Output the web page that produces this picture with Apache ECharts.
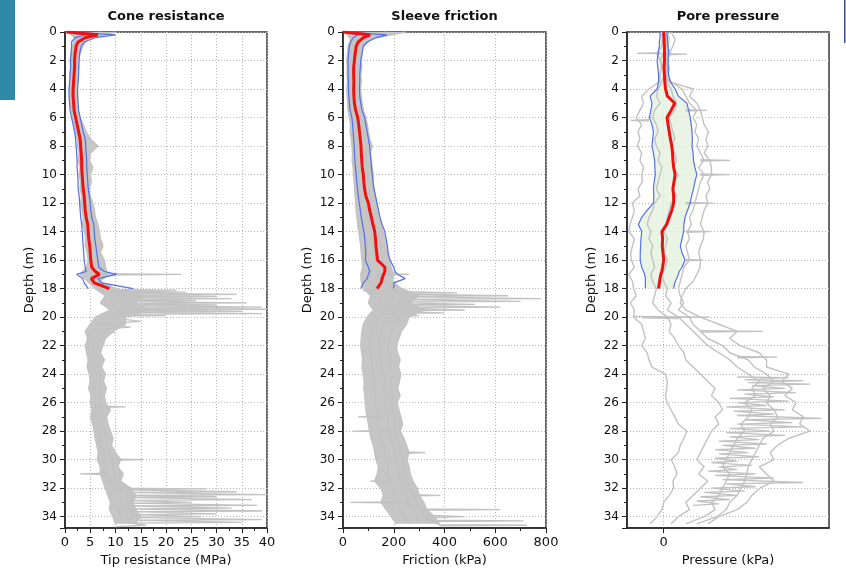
<!DOCTYPE html>
<html><head><meta charset="utf-8">
<script src="https://cdn.jsdelivr.net/npm/echarts@6/dist/echarts.min.js"></script>
<style>html,body{margin:0;padding:0;background:#fff}#c{width:846px;height:572px}</style>
</head><body><div id="c"></div>
<script>
// ---------- DATA ----------
const titles = ['Cone resistance', 'Sleeve friction', 'Pore pressure'];
const xNames = ['Tip resistance (MPa)', 'Friction (kPa)', 'Pressure (kPa)'];
const yName = 'Depth (m)';

// depth grid of the individual soundings (m)
const depth = [0,0.5,1,1.5,2,2.5,3,3.5,4,4.5, 5,5.5,6,6.5,7,7.5,8,8.5,9,9.5,
  10,10.5,11,11.5,12,12.5,13,13.5,14,14.5, 15,15.5,16,16.5,17,17.5,18,18.5,19,19.5,
  20,20.5,21,21.5,22,22.5,23,23.5,24,24.5, 25,25.5,26,26.5,27,27.5,28,28.5,29,29.5,
  30,30.5,31,31.5,32,32.5,33,33.5,34,34.5];

// depth grid of the statistics (mean, mean +/- std)
const meanDepth = [0,0.2,0.4,0.7,1,1.5,2,2.5,3,3.5,4,4.5,5,5.5,6,6.5,7,7.5,8,8.5,9,9.5,
  10,10.5,11,11.5,12,12.5,13,13.5,14,14.5,15,15.5,16,16.5,16.8,17,17.3,17.6,18];

// ---- Cone resistance (MPa) ----
const cone1 = [0.5,2.5,1.6,1.2,1.0,1.2,0.9,1.1,0.8,1.0, 0.9,1.3,1.5,1.8,2.0,2.4,2.5,2.8,2.6,3.0,
  2.8,3.1,3.0,3.3,3.1,3.4,3.6,3.5,3.9,4.1, 4.0,4.4,4.6,4.3,3.0,4.5,6.0,8,7,9,
  6,5,4,4.5,4.0,4.3,4.6,4.4,4.8,5.0, 4.7,5.2,5.0,5.4,5.1,5.5,5.8,6.0,6.3,6.6,
  6.4,7.0,7.0,7.5,8.0,8.5,9.0,8.8,9.5,10];
const cone2 = [7,3.5,2.2,2.0,1.8,1.9,1.7,1.8,1.5,1.6, 1.7,1.9,2.2,2.5,2.8,3.2,3.5,3.3,3.6,3.4,
  3.7,3.9,3.6,4.0,4.2,4.0,4.4,4.7,4.9,5.0, 5.2,5.0,5.5,5.8,6.0,5.5,8.0,12,10,13,
  9,8,6.5,6.0,5.5,5.8,6.0,5.6,6.2,6.5, 6.0,6.4,6.8,6.5,6.2,6.8,7.0,7.4,7.2,7.8,
  8.0,8.5,8.2,9.0,10.5,10.0,11,12,12.5,13];
const cone3 = [10,4.5,3.5,3.0,2.6,2.8,2.4,2.6,2.2,2.5, 2.4,2.6,3.0,3.6,4.2,5.0,6.5,5.0,4.8,5.5,
  5.0,5.2,4.8,5.0,5.5,5.8,6.0,6.5,6.8,7.0, 7.5,7.0,7.8,8.0,8.5,7.0,10,16,14,17,
  12,12,9.5,8.0,7.5,7.0,7.8,7.2,8.0,7.6, 8.2,7.8,8.0,9.0,8.2,8.5,9.0,9.5,9.2,10,
  11,10.5,11.5,11,13,14,13.5,14,15,14];
const cone4 = [3,2.0,1.4,1.6,1.4,1.5,1.3,1.4,1.2,1.3, 1.2,1.5,1.8,2.2,2.3,2.8,3.0,3.2,3.0,3.3,
  3.2,3.5,3.4,3.6,3.5,3.7,4.0,4.2,4.3,4.6, 4.5,4.8,5.0,5.2,5.5,5.0,7.0,10,9,11,
  8,6.5,5.5,5.2,4.8,5.0,5.3,5.0,5.4,5.8, 5.5,5.9,6.0,5.8,5.6,6.2,6.5,6.8,7.0,7.2,
  7.5,7.8,7.6,8.5,9.5,9.0,10,10.5,11,11.5];
const cone5 = [5,3.0,2.8,2.5,2.2,2.3,2.0,2.1,1.9,2.0, 2.0,2.2,2.6,3.0,3.4,3.8,4.2,4.0,4.3,4.0,
  4.4,4.5,4.2,4.6,4.8,4.6,5.0,5.4,5.6,5.8, 6.0,6.2,6.5,6.8,7.0,6.0,9,14,12,15,
  11,10,8.0,7.0,6.5,6.2,6.8,6.4,7.0,6.8, 7.2,7.0,7.4,7.2,7.0,7.4,8.0,8.2,8.5,8.8,
  9.2,9.5,9.8,10,12,12.5,12,13,13.5,12.5];
const coneSpikeDepth = [16.95,17.0,17.05,null,
  18.05,18.1,18.15,18.25,18.3,18.4,18.45,18.55,18.6,18.7, 18.75,18.85,18.9,19.0,19.05,19.15,19.2,19.3,19.35,19.45,
  19.5,19.6,19.65,19.75,19.8,19.9,19.95,20.3,20.5,20.7, 20.9,21.1,null,
  26.25,26.3,26.35,null, 29.95,30.0,30.05,null, 30.95,31.0,31.05,null,
  32.0,32.05,32.1,32.25,32.3,32.45,32.5,32.6,32.65,32.8, 32.85,33.0,33.05,33.2,33.25,33.4,33.45,33.6,33.65,33.8,
  33.85,34.0,34.05,34.2,34.25,34.4,34.45,34.6,34.7];
const coneSpikeVal = [6,23,6,null,
  6,22,7,24,8,34,9,30,8,33, 10,26,9,36,10,30,9,39,11,40,
  10,35,9,39,8,20,7,15,6,13, 5,10,null,
  6,12,6,null, 9,15.5,9,null, 8,3,8,null,
  9,28,10,34,11,40,12,30,11,37, 12,25,12,38,13,33,12,39,13,30,
  14,27,13,39,14,35,13,16,10];
const coneMean = [0.3,6.5,4.0,2.6,2.2,2.0,1.9,1.9,1.8,1.7,1.6,1.6,1.7,1.8,2.1,2.4,2.7,3.0,3.1,3.2,
  3.3,3.3,3.4,3.5,3.6,3.8,3.9,4.0,4.2,4.5,4.6,4.7,4.9,5.0,5.1,5.3,6.0,6.8,5.2,5.8,8.8];
const coneLow = [0,4.0,2.0,1.3,1.3,1.2,1.1,1.1,1.0,0.9,0.8,0.8,0.9,1.0,1.3,1.6,1.9,2.1,2.2,2.3,
  2.4,2.4,2.5,2.6,2.6,2.8,2.9,3.0,3.1,3.3,3.4,3.5,3.6,3.7,3.8,4.0,4.2,2.3,3.5,3.8,4.6];
const coneHigh = [1,10,6.0,3.8,3.2,2.9,2.8,2.7,2.7,2.6,2.5,2.5,2.6,2.7,3.0,3.3,3.6,4.0,4.1,4.2,
  4.3,4.3,4.4,4.5,4.6,4.8,5.0,5.1,5.3,5.7,5.8,5.9,6.1,6.3,6.5,6.7,7.8,10.2,6.5,7.2,13.5];

// ---- Sleeve friction (kPa) ----
const fric1 = [10,30,20,18,15,17,16,18,14,17, 18,20,25,30,28,33,35,38,36,40,
  42,44,46,48,50,52,55,58,62,66, 70,72,75,78,70,72,80,110,100,120,
  95,80,75,72,70,74,78,75,80,84, 82,86,88,90,95,100,105,110,120,125,
  130,140,135,125,150,160,150,170,190,210];
const fric2 = [100,60,45,42,40,42,38,41,40,42, 44,48,55,60,62,66,70,68,72,74,
  78,80,82,86,90,94,98,105,110,118, 122,125,130,135,140,130,160,200,180,220,
  170,160,150,145,140,150,155,150,160,165, 158,170,165,172,180,175,185,190,200,205,
  210,220,215,230,240,250,255,265,290,300];
const fric3 = [245,110,80,75,72,74,70,72,68,72, 75,80,90,96,100,105,115,108,112,115,
  120,118,122,128,132,138,142,150,158,165, 172,176,182,190,200,195,230,300,260,320,
  260,250,230,220,210,215,225,218,228,222, 215,225,213,220,228,235,226,240,250,260,
  252,260,265,275,292,300,318,330,360,380];
const fric4 = [50,45,32,30,28,30,27,30,26,29, 30,34,40,45,46,50,52,54,55,57,
  60,62,64,66,70,72,76,80,86,92, 95,98,102,106,110,100,120,160,140,170,
  140,120,112,108,105,110,115,112,118,122, 120,128,125,132,138,135,145,150,160,165,
  170,178,175,185,195,205,215,225,240,260];
const fric5 = [170,85,62,58,55,58,54,57,54,56, 60,64,72,78,80,86,92,88,92,95,
  100,98,102,106,112,115,120,128,134,140, 148,150,156,162,175,160,190,250,220,270,
  220,200,190,182,175,182,190,185,195,192, 188,198,190,196,205,200,208,215,225,230,
  235,240,245,255,265,280,290,300,330,340];
const fricSpikeDepth = [16.95,17.0,17.05,null,
  18.05,18.1,18.15,18.3,18.35,18.5,18.55,18.7,18.75,18.9, 18.95,19.1,19.15,19.3,19.35,19.5,19.55,19.7,19.75,19.9,
  19.95,20.2,20.3,null,
  26.95,27.0,27.05,null, 27.95,28.0,28.05,null, 29.45,29.5,29.55,null, 31.45,31.5,31.55,null,
  32.45,32.5,32.55,32.95,33.0,33.05,33.45,33.5,33.55,33.9, 34.0,34.1,34.25,34.3,34.35,34.55,34.6,34.65];
const fricSpikeVal = [130,260,130,null,
  90,200,80,450,100,650,110,780,120,700, 110,520,120,620,130,480,120,400,110,300,
  100,250,90,null,
  150,60,150,null, 180,40,180,null, 250,324,250,null, 200,107,200,null,
  270,383,270,250,30,250,300,620,300,320, 480,310,350,711,350,380,725,380];
const fricMean = [0,107,80,60,52,48,45,42,42,43,42,43,45,50,58,62,65,68,71,72,
  74,76,80,82,85,90,100,105,112,118,125,128,130,133,136,165,165,160,154,150,134];
const fricLow = [0,60,40,30,25,22,20,20,20,21,22,23,25,28,35,38,40,42,44,45,
  47,49,52,54,57,60,64,68,72,77,82,86,88,90,88,100,105,100,95,80,70];
const fricHigh = [10,173,130,95,80,75,70,68,66,66,65,66,70,75,85,90,95,100,105,107,
  110,112,115,118,122,128,134,140,146,154,165,170,175,178,185,200,205,215,245,200,200];

// ---- Pore pressure (kPa) ----
const pore1 = [-5,-3,-5,-20,-8,-6,-10,-12,-40,-60, -55,-65,-75,-60,-70,-65,-72,-60,-65,-55,
  -60,-58,-70,-65,-85,-80,-85,-92,-95,-80, -85,-90,-88,-80,-95,-85,-82,-75,-91,-80,
  -82,-60,-55,-50,-60,-45,-40,-32,4,10, 8,5,9,20,30,40,63,55,45,40,
  20,30,36,25,27,15,0,-5,-18,-37];
const pore2 = [0,5,3,0,-10,-2,0,-5,-15,-20, -10,-25,-30,-20,-15,-25,-20,-10,-15,-5,
  -10,-15,-20,-10,-25,-30,-40,-45,-35,-40, -30,-35,-30,-25,-35,-30,-20,-25,-30,-15,
  10,20,15,30,40,55,60,80,100,120, 140,130,150,160,140,150,130,120,110,100,
  90,110,95,120,100,80,60,70,40,20];
const pore3 = [5,10,8,20,5,8,10,8,20,25, 35,30,15,20,25,30,20,30,35,25,
  40,30,25,35,20,15,10,5,0,10, 5,0,10,5,-5,0,10,5,20,10,
  40,60,80,100,120,150,180,200,230,260, 240,250,220,240,230,210,220,200,190,180,
  170,160,180,170,160,150,130,140,110,60];
const pore4 = [20,31,25,15,10,15,12,20,50,60, 70,90,80,90,85,95,90,100,110,95,
  110,100,95,90,85,80,70,75,65,70, 60,65,70,55,50,45,40,45,54,40,
  70,80,100,120,160,180,230,247,280,300, 270,290,280,300,310,290,300,270,260,250,
  240,230,226,220,210,200,180,170,145,90];
const pore5 = [10,15,12,8,5,10,5,15,81,70, 90,100,105,110,122,115,120,110,125,130,
  130,120,125,115,120,110,105,100,110,108, 100,95,100,99,90,80,60,50,45,60,
  99,150,200,180,208,260,280,280,341,320, 350,330,360,350,380,370,398,340,309,290,
  300,260,280,300,262,240,226,200,150,120];
const poreSpikeDepth = [1.45,1.5,1.55,1.6,null, 5.45,5.5,5.55,null, 6.15,6.2,6.25,null,
  8.95,9.0,9.05,null, 9.95,10.0,10.05,null, 11.95,12.0,12.05,null, 13.95,14.0,14.05,null,
  15.95,16.0,16.05,null, 19.95,20.0,20.05,20.1,null, 20.95,21.0,21.05,null, 22.75,22.8,22.85,null,
  24.2,24.25,24.4,24.45,24.6,24.7,24.8,25.0,25.1,25.3, 25.4,25.6,25.7,25.9,26.0,26.2,26.3,26.5,26.6,26.8,
  26.9,27.1,27.2,27.4,27.5,27.7,27.8,28.0,28.1,28.3, 28.4,28.6,28.7,28.9,29.0,29.2,29.3,29.5,29.6,29.8,
  29.9,30.1,30.2,30.4,30.5,30.7,30.8,31.0,31.1,31.3, 31.4,31.6,31.7,31.9,32.0,32.2,32.3,32.5,32.6,32.8,
  32.9,33.1,33.2];
const poreSpikeVal = [-10,-73,63,5,null, 60,117,60,null, -40,-90,-40,null,
  100,181,100,null, 100,181,100,null, 60,136,60,null, 60,126,60,null,
  60,108,60,null, -82,126,-60,40,null, 100,270,100,null, 200,309,200,null,
  200,340,220,380,230,398,240,330,200,360, 220,300,180,340,200,280,170,330,190,300,
  200,430,220,350,200,380,180,290,170,330, 180,260,150,280,160,250,140,230,150,260,
  140,200,130,240,150,200,120,250,140,300, 160,380,170,250,130,220,110,200,100,180,
  90,150,80];
const poreMean = [0,0,1,1,2,2,2,1,2,3,5,10,30,20,9,12,15,18,22,24,25,27,31,28,25,27,27,22,15,8,
  -5,-3,-4,-2,0,-3,-5,-8,-10,-12,-14];
const poreLow = [-10,-10,-10,-12,-12,-15,-18,-16,-14,-14,-18,-37,-32,-35,-39,-32,-28,-30,-32,-28,
  -25,-24,-23,-26,-28,-27,-28,-45,-60,-69,-60,-62,-63,-64,-64,-60,-55,-52,-50,-50,-50];
const poreHigh = [9,9,10,10,12,13,12,12,13,18,31,40,63,68,72,75,77,78,77,80,
  81,85,90,85,81,76,72,65,58,55,54,50,45,50,58,50,42,40,35,30,27];

// axis ranges / ticks
const depthMax = 34.8;
const xMin = [0, 0, -100];
const xMax = [40, 800, 450];
const xInterval = [5, 200, 100];
const poreTickValues = [0];

// ---------- BUILD ----------
const FONT = 'DejaVu Sans';
const GRAY = '#c2c2c2', BLUE = '#5470e8', RED = '#ee1111';
const lefts = [65, 343, 627];
const widths = [202, 203, 202];
const TOP = 32, HEIGHT = 499;

function pairs(vals, ds) {
  return vals.map((v, i) => (v === null || ds[i] === null) ? ['-', '-'] : [v, ds[i]]);
}
const traces = [
  [cone1, cone2, cone3, cone4, cone5],
  [fric1, fric2, fric3, fric4, fric5],
  [pore1, pore2, pore3, pore4, pore5]
];
const spikes = [[coneSpikeVal, coneSpikeDepth], [fricSpikeVal, fricSpikeDepth], [poreSpikeVal, poreSpikeDepth]];
const stats = [[coneMean, coneLow, coneHigh], [fricMean, fricLow, fricHigh], [poreMean, poreLow, poreHigh]];

function polygonSeries(p, lowArr, highArr, ds, fill, opacity) {
  return {type: 'custom', xAxisIndex: p, yAxisIndex: p, silent: true, animation: false,
    data: [0], clip: true,
    renderItem: function (params, api) {
      const pts = [];
      for (let i = 0; i < ds.length; i++) pts.push(api.coord([highArr[i], ds[i]]));
      for (let i = ds.length - 1; i >= 0; i--) pts.push(api.coord([lowArr[i], ds[i]]));
      return {type: 'polygon', shape: {points: pts}, style: {fill: fill, opacity: opacity}};
    }};
}

const grid = [], xAxis = [], yAxis = [], series = [], graphic = [];
for (let p = 0; p < 3; p++) {
  grid.push({left: lefts[p], top: TOP, width: widths[p], height: HEIGHT,
    show: true, borderColor: '#3a3a3a', borderWidth: 1.5, backgroundColor: '#fff'});
  const xa = {
    gridIndex: p, type: 'value', min: xMin[p], max: xMax[p], interval: xInterval[p],
    name: xNames[p], nameLocation: 'middle', nameGap: 21,
    nameTextStyle: {fontFamily: FONT, fontSize: 13, color: '#111'},
    axisLine: {show: true, onZero: false, lineStyle: {color: '#222', width: 1.5}},
    axisTick: {show: true, inside: false, length: 5, lineStyle: {color: '#222'}},
    minorTick: {show: p < 2, splitNumber: 2, length: 3, lineStyle: {color: '#222'}},
    axisLabel: {fontFamily: FONT, fontSize: 13, color: '#111', margin: 8},
    splitLine: {show: true, lineStyle: {color: '#b5b5b5', type: [1, 2], width: 1}}
  };
  if (p === 2) {
    xa.axisLabel.customValues = poreTickValues;
    xa.axisTick.customValues = poreTickValues;
  }
  xAxis.push(xa);
  yAxis.push({
    gridIndex: p, type: 'value', inverse: true, min: 0, max: depthMax, interval: 2,
    name: yName, nameLocation: 'middle', nameGap: 29, nameRotate: 90,
    nameTextStyle: {fontFamily: FONT, fontSize: 13, color: '#111'},
    axisLine: {show: true, onZero: false, lineStyle: {color: '#222', width: 1.5}},
    axisTick: {show: true, length: 5, lineStyle: {color: '#222'}},
    minorTick: {show: true, splitNumber: 2, length: 3, lineStyle: {color: '#222'}},
    axisLabel: {fontFamily: FONT, fontSize: 12, color: '#111', margin: 8, showMaxLabel: false},
    splitLine: {show: true, lineStyle: {color: '#b5b5b5', type: [1, 2], width: 1}}
  });
  const base = {type: 'line', xAxisIndex: p, yAxisIndex: p, showSymbol: false, symbol: 'none',
    animation: false, silent: true};
  // envelope of the soundings (min..max of the traces at each depth)
  if (p < 2) {
    const lo = depth.map((d, i) => Math.min.apply(null, traces[p].map(t => t[i])));
    const hi = depth.map((d, i) => Math.max.apply(null, traces[p].map(t => t[i])));
    series.push(polygonSeries(p, lo, hi, depth, '#c6c6c6', 1));
  }
  traces[p].forEach(t => series.push(Object.assign({}, base, {
    data: pairs(t, depth), lineStyle: {color: GRAY, width: 1.4}})));
  series.push(Object.assign({}, base, {
    data: pairs(spikes[p][0], spikes[p][1]), connectNulls: false,
    lineStyle: {color: GRAY, width: 1.3}}));
  if (p === 2) series.push(polygonSeries(2, poreLow, poreHigh, meanDepth, '#e3f1df', 0.8));
  series.push(Object.assign({}, base, {data: pairs(stats[p][1], meanDepth), lineStyle: {color: BLUE, width: 1.2}}));
  series.push(Object.assign({}, base, {data: pairs(stats[p][2], meanDepth), lineStyle: {color: BLUE, width: 1.2}}));
  series.push(Object.assign({}, base, {data: pairs(stats[p][0], meanDepth), lineStyle: {color: RED, width: 3}}));
  graphic.push({type: 'text', x: lefts[p] + widths[p] / 2, y: 17,
    style: {text: titles[p], fontFamily: FONT, fontSize: 13, fontWeight: 'bold', fill: '#111',
      textAlign: 'center', textVerticalAlign: 'middle'}});
}
// page decorations
graphic.push({type: 'rect', left: 0, top: 0, shape: {width: 15, height: 100}, style: {fill: '#2f88a6'}});
graphic.push({type: 'rect', left: 844, top: 0, shape: {width: 1.5, height: 43}, style: {fill: '#3d4f8f'}});

const chart = echarts.init(document.getElementById('c'), null, {renderer: 'canvas'});
chart.setOption({animation: false, backgroundColor: '#fff', grid, xAxis, yAxis, series, graphic});
</script></body></html>
